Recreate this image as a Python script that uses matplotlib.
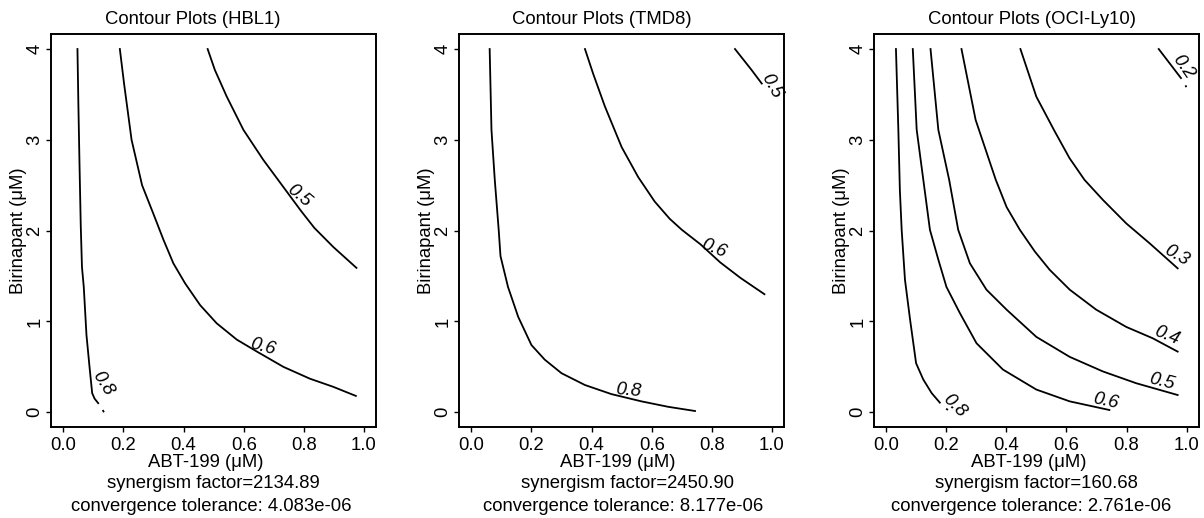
import matplotlib
matplotlib.use("Agg")
import matplotlib.pyplot as plt

plt.rcParams['font.family'] = ['Liberation Sans', 'DejaVu Sans']

# values
cell_lines = ['HBL1', 'TMD8', 'OCI-Ly10']
synergism = ['2134.89', '2450.90', '160.68']
tolerance = ['4.083e-06', '8.177e-06', '2.761e-06']

x_ticks = [0.0, 0.2, 0.4, 0.6, 0.8, 1.0]
x_tick_labels = ['0.0', '0.2', '0.4', '0.6', '0.8', '1.0']
y_ticks = [0, 1, 2, 3, 4]
y_tick_labels = ['0', '1', '2', '3', '4']

# HBL1 contour lines
hbl1_levels = ['0.8', '0.6', '0.5']
hbl1_x = [
    [0.047, 0.050, 0.054, 0.058, 0.062, 0.068, 0.077, 0.088, 0.096, 0.104, 0.116],
    [0.188, 0.202, 0.227, 0.262, 0.299, 0.333, 0.366, 0.405, 0.455, 0.510, 0.577,
     0.643, 0.732, 0.820, 0.898, 0.973],
    [0.480, 0.504, 0.543, 0.599, 0.665, 0.732, 0.790, 0.835, 0.898, 0.975],
]
hbl1_y = [
    [4.00, 3.40, 2.70, 2.05, 1.60, 1.38, 0.85, 0.47, 0.21, 0.15, 0.10],
    [4.00, 3.62, 3.00, 2.50, 2.19, 1.90, 1.64, 1.42, 1.18, 0.98, 0.80,
     0.67, 0.50, 0.37, 0.28, 0.18],
    [4.00, 3.77, 3.48, 3.11, 2.78, 2.48, 2.22, 2.03, 1.82, 1.59],
]
hbl1_tail_x = [[0.131, 0.135]]
hbl1_tail_y = [[0.025, 0.0]]
hbl1_lab_x = [0.130, 0.663, 0.784]
hbl1_lab_y = [0.32, 0.72, 2.385]

# TMD8 contour lines
tmd8_levels = ['0.8', '0.6', '0.5']
tmd8_x = [
    [0.061, 0.067, 0.078, 0.091, 0.097, 0.122, 0.156, 0.200, 0.244, 0.300, 0.378,
     0.466, 0.566, 0.655, 0.744],
    [0.378, 0.405, 0.444, 0.500, 0.555, 0.610, 0.660, 0.700, 0.762, 0.828, 0.895, 0.975],
    [0.877, 0.932, 0.966],
]
tmd8_y = [
    [4.00, 3.11, 2.56, 2.01, 1.72, 1.38, 1.05, 0.74, 0.58, 0.43, 0.30,
     0.20, 0.12, 0.06, 0.014],
    [4.00, 3.73, 3.37, 2.92, 2.59, 2.32, 2.13, 2.01, 1.85, 1.65, 1.48, 1.30],
    [4.00, 3.77, 3.62],
]
tmd8_tail_x = []
tmd8_tail_y = []
tmd8_lab_x = [0.522, 0.805, 0.999]
tmd8_lab_y = [0.24, 1.80, 3.596]

# OCI-Ly10 contour lines
ocily10_levels = ['0.8', '0.6', '0.5', '0.4', '0.3', '0.2']
ocily10_x = [
    [0.033, 0.041, 0.046, 0.052, 0.063, 0.080, 0.100, 0.124, 0.152, 0.179],
    [0.089, 0.102, 0.124, 0.146, 0.174, 0.201, 0.246, 0.301, 0.389, 0.500, 0.611, 0.743],
    [0.148, 0.174, 0.210, 0.240, 0.279, 0.334, 0.401, 0.500, 0.611, 0.721, 0.832, 0.970],
    [0.251, 0.298, 0.365, 0.401, 0.445, 0.495, 0.544, 0.611, 0.699, 0.799, 0.887, 0.970],
    [0.447, 0.500, 0.560, 0.610, 0.660, 0.721, 0.799, 0.877, 0.970],
    [0.907, 0.981],
]
ocily10_y = [
    [4.00, 3.11, 2.45, 2.01, 1.46, 1.02, 0.54, 0.36, 0.21, 0.106],
    [4.00, 3.11, 2.56, 2.01, 1.68, 1.38, 1.09, 0.76, 0.47, 0.25, 0.12, 0.025],
    [4.00, 3.11, 2.56, 2.01, 1.64, 1.35, 1.13, 0.83, 0.61, 0.45, 0.32, 0.19],
    [4.00, 3.22, 2.56, 2.26, 2.01, 1.77, 1.57, 1.35, 1.13, 0.94, 0.815, 0.668],
    [4.00, 3.475, 3.10, 2.80, 2.56, 2.34, 2.08, 1.86, 1.585],
    [4.00, 3.68],
]
ocily10_tail_x = [[0.200, 0.206], [0.996, 0.999]]
ocily10_tail_y = [[0.040, 0.025], [3.60, 3.58]]
ocily10_lab_x = [0.229, 0.730, 0.916, 0.934, 0.967, 0.987]
ocily10_lab_y = [0.07, 0.121, 0.337, 0.843, 1.721, 3.80]

# label angles (degrees) along the lines
hbl1_rot = [-58, -15, -40]
tmd8_rot = [-5, -22, -61]
ocily10_rot = [-45, -12, -14, -22, -30, -55]

panels = [
    (hbl1_levels, hbl1_x, hbl1_y, hbl1_tail_x, hbl1_tail_y, hbl1_lab_x, hbl1_lab_y, hbl1_rot),
    (tmd8_levels, tmd8_x, tmd8_y, tmd8_tail_x, tmd8_tail_y, tmd8_lab_x, tmd8_lab_y, tmd8_rot),
    (ocily10_levels, ocily10_x, ocily10_y, ocily10_tail_x, ocily10_tail_y,
     ocily10_lab_x, ocily10_lab_y, ocily10_rot),
]

# layout in pixels of the 1204x518 canvas
W, H = 1204, 518
box_left = [51.3, 459.3, 874.0]
box_w = 324.7
box_top, box_bottom = 34.5, 426.8
title_cx = [192.5, 602.0, 1031.7]
xlab_cx = [205.5, 618.0, 1028.3]
syn_cx = [213.3, 627.5, 1036.7]
tol_cx = [210.8, 623.5, 1031.3]
FS = 13.3


def fx(p):
    return p / W


def fy(p):
    return 1 - p / H


fig = plt.figure(figsize=(W / 100, H / 100), dpi=100)

for i, (levels, xs, ys, txs, tys, lx, ly, rot) in enumerate(panels):
    ax = fig.add_axes([fx(box_left[i]), fy(box_bottom), box_w / W,
                       (box_bottom - box_top) / H])
    for x, y in zip(xs, ys):
        ax.plot(x, y, color='black', lw=1.3, solid_joinstyle='round')
    for x, y in zip(txs, tys):
        ax.plot(x, y, color='black', lw=1.3, solid_capstyle='butt')
    for lev, x, y, r in zip(levels, lx, ly, rot):
        ax.text(x, y, lev, rotation=r, rotation_mode='anchor', ha='center',
                va='center', fontsize=FS, style='italic')

    ax.set_xlim(-0.04, 1.04)
    ax.set_ylim(-0.16, 4.16)
    ax.set_xticks(x_ticks)
    ax.set_xticklabels(x_tick_labels)
    ax.set_yticks(y_ticks)
    ax.set_yticklabels(y_tick_labels, rotation=90, va='center')
    ax.tick_params(direction='out', length=3.6, width=1.0, labelsize=FS,
                   colors='black')
    ax.tick_params(axis='x', pad=4)
    ax.tick_params(axis='y', pad=2)
    for s in ax.spines.values():
        s.set_linewidth(1.4)

    fig.text(fx(title_cx[i]), fy(24), 'Contour Plots (%s)' % cell_lines[i],
             ha='center', va='baseline', fontsize=FS)
    fig.text(fx(box_left[i] - 33), fy((box_top + box_bottom) / 2),
             'Birinapant (\u03bcM)', rotation=90, ha='center', va='center',
             fontsize=FS)
    fig.text(fx(xlab_cx[i]), fy(467.3), 'ABT-199 (\u03bcM)', ha='center',
             va='baseline', fontsize=FS)
    fig.text(fx(syn_cx[i]), fy(488.3), 'synergism factor=%s' % synergism[i],
             ha='center', va='baseline', fontsize=FS)
    fig.text(fx(tol_cx[i]), fy(511), 'convergence tolerance: %s' % tolerance[i],
             ha='center', va='baseline', fontsize=FS)

fig.savefig('out.png', dpi=100)
